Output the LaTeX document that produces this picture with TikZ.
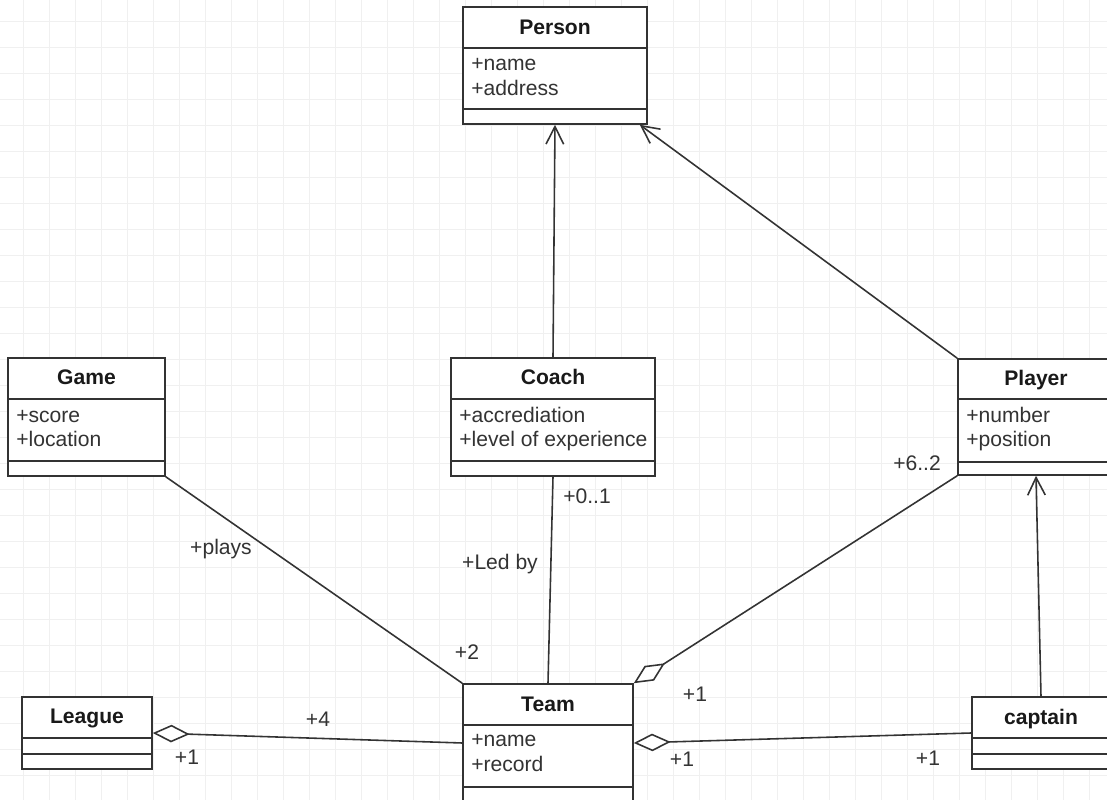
\documentclass[tikz,border=0pt]{standalone}
\usepackage{fontspec}
\setmainfont{Liberation Sans}
\usepackage{tikz}
\usetikzlibrary{arrows.meta}
\usetikzlibrary{calc}
\usetikzlibrary{fit}

\definecolor{linegray}{HTML}{333333}
\definecolor{textgray}{HTML}{333333}
\definecolor{gridgray}{HTML}{F0F0F0}

\begin{document}
\begin{tikzpicture}[x=0.02cm, y=-0.02cm,
        class_style/.style={draw=linegray, fill=white, line width=0.9pt, inner sep=0pt},
        title_style/.style={text=black!90, font=\fontsize{12}{14}\selectfont\bfseries, inner sep=0pt, anchor=base},
        attr_style/.style={text=textgray, font=\fontsize{12}{14}\selectfont, inner sep=0pt, anchor=base west},
        role_style/.style={text=textgray, font=\fontsize{12}{14}\selectfont, inner sep=0pt, anchor=base},
        divider_style/.style={draw=linegray, line width=0.9pt},
        edge_style/.style={draw=linegray, line width=0.9pt},
        inherit_edge_style/.style={edge_style, -{Straight Barb[length=10pt, width=10pt]}},
        aggr_edge_style/.style={edge_style, -{Diamond[open, fill=white, length=21pt, width=10pt]}},
        grid_style/.style={draw=gridgray, line width=0.5pt}]

        \useasboundingbox (0,0) rectangle (1107,800);
        \clip (0,0) rectangle (1107,800);

        % background grid
        \fill[white] (0,0) rectangle (1107,800);
        \foreach \gx in {23,49,...,1101}
            \draw[grid_style] (\gx,0) -- (\gx,800);
        \foreach \gy in {21,47,...,801}
            \draw[grid_style] (0,\gy) -- (1107,\gy);

        % classes
        \node [class_style, fit={(463,7) (647,124)}] (person) {};
        \draw [divider_style] (463,48) -- (647,48);
        \draw [divider_style] (463,109) -- (647,109);
        \node [title_style] (person_title) at (555,35) {Person};
        \node [attr_style] (person_a1) at (471,71) {+name};
        \node [attr_style] (person_a2) at (471,96) {+address};

        \node [class_style, fit={(8,358) (165,476)}] (game) {};
        \draw [divider_style] (8,399) -- (165,399);
        \draw [divider_style] (8,461) -- (165,461);
        \node [title_style] (game_title) at (86.5,385) {Game};
        \node [attr_style] (game_a1) at (16,423) {+score};
        \node [attr_style] (game_a2) at (16,447) {+location};

        \node [class_style, fit={(451,358) (655,476)}] (coach) {};
        \draw [divider_style] (451,399) -- (655,399);
        \draw [divider_style] (451,461) -- (655,461);
        \node [title_style] (coach_title) at (553,385) {Coach};
        \node [attr_style] (coach_a1) at (459,423) {+accrediation};
        \node [attr_style] (coach_a2) at (459,447) {+level of experience};

        \node [class_style, fit={(958,359) (1114,475)}] (player) {};
        \draw [divider_style] (958,399) -- (1114,399);
        \draw [divider_style] (958,462) -- (1114,462);
        \node [title_style] (player_title) at (1036,386) {Player};
        \node [attr_style] (player_a1) at (966,423) {+number};
        \node [attr_style] (player_a2) at (966,447) {+position};

        \node [class_style, fit={(22,697) (152,769)}] (league) {};
        \draw [divider_style] (22,738) -- (152,738);
        \draw [divider_style] (22,754) -- (152,754);
        \node [title_style] (league_title) at (87,724) {League};

        \node [class_style, fit={(463,684) (633,802)}] (team) {};
        \draw [divider_style] (463,725) -- (633,725);
        \draw [divider_style] (463,787) -- (633,787);
        \node [title_style] (team_title) at (548,712) {Team};
        \node [attr_style] (team_a1) at (471,747) {+name};
        \node [attr_style] (team_a2) at (471,772) {+record};

        \node [class_style, fit={(972,697) (1110,769)}] (captain) {};
        \draw [divider_style] (972,738) -- (1110,738);
        \draw [divider_style] (972,754) -- (1110,754);
        \node [title_style] (captain_title) at (1041,725) {captain};

        % relations
        \draw [inherit_edge_style] (coach.north) -- (person.south);
        \draw [inherit_edge_style] (player.north west) -- ($(person.south east)+(-8,0)$);
        \draw [inherit_edge_style] (captain.north) -- (player.south);

        \draw [edge_style] (game.south east) -- (team.north west);
        \draw [edge_style] (coach.south) -- (team.north);

        \draw [aggr_edge_style] (player.south west) -- (team.north east);
        \draw [aggr_edge_style] (team.west) -- (league.east);
        \draw [aggr_edge_style] (captain.west) -- (team.east);

        % role labels
        \node [role_style] (plays_label) at (221,555) {+plays};
        \node [role_style] (game_mult) at (467,660) {+2};
        \node [role_style] (coach_mult) at (587,504) {+0..1};
        \node [role_style] (ledby_label) at (500,570) {+Led by};
        \node [role_style] (player_mult) at (917,471) {+6..2};
        \node [role_style] (team_player_mult) at (695,702) {+1};
        \node [role_style] (team_league_mult) at (318,727) {+4};
        \node [role_style] (league_mult) at (187,765) {+1};
        \node [role_style] (team_captain_mult) at (682,767) {+1};
        \node [role_style] (captain_mult) at (928,766) {+1};

\end{tikzpicture}
\end{document}
